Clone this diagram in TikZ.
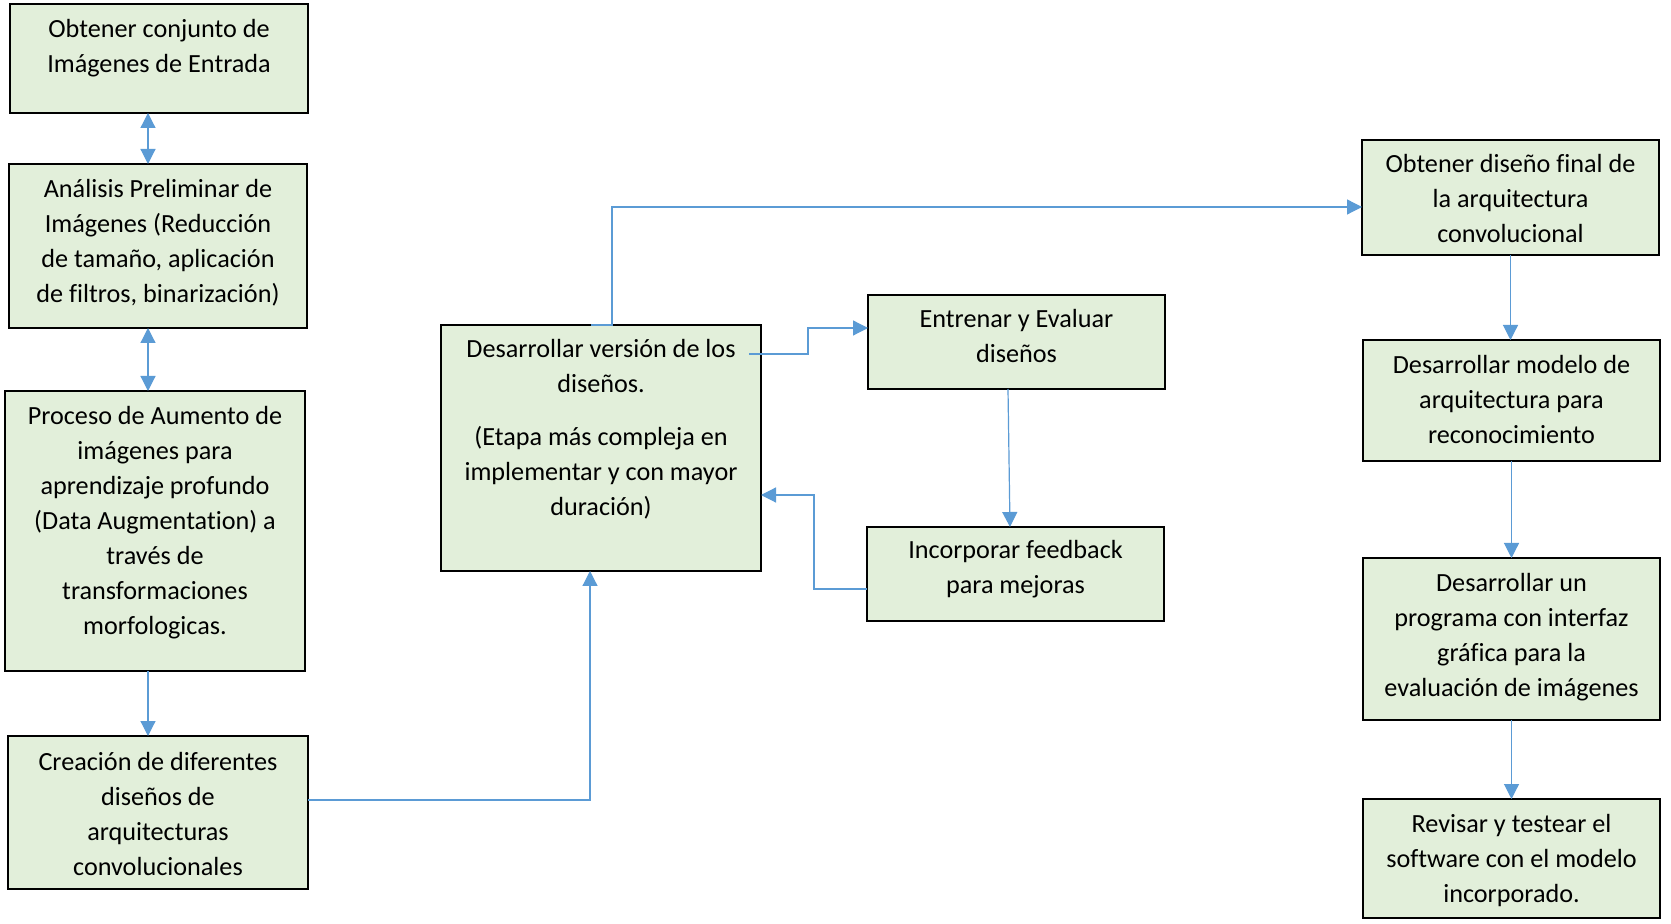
\documentclass[tikz,border=0pt]{standalone}
\usepackage{fontspec}
\setmainfont{Carlito}[Ligatures={NoCommon}]
\usetikzlibrary{arrows.meta,calc}
\definecolor{boxfill}{HTML}{E2EFDA}
\definecolor{connblue}{HTML}{5B9BD5}
\newcommand{\boxtext}[2]{\parbox[t]{#1}{\centering\fontsize{13.1}{17.5}\selectfont #2}}
\begin{document}
\begin{tikzpicture}[x=0.5pt,y=-0.5pt,
  stepbox/.style={draw=black,line width=1.2pt,fill=boxfill,inner sep=0pt,outer sep=0pt},
  boxlabel/.style={anchor=base,inner sep=0pt},
  conn/.style={draw=connblue,line width=0.6pt},
  >={Triangle[length=7.5pt,width=7.5pt]}]
\useasboundingbox[fill=white] (0,0) rectangle (1671,924);
% boxes
\node[stepbox,minimum width=149pt,minimum height=54.5pt] (A) at (159,58.5) {};
\node[stepbox,minimum width=149pt,minimum height=82pt] (B) at (158,246) {};
\node[stepbox,minimum width=150pt,minimum height=140pt] (C) at (155,531) {};
\node[stepbox,minimum width=150pt,minimum height=76.5pt] (D) at (158,812.5) {};
\node[stepbox,minimum width=160pt,minimum height=123pt] (E) at (601,448) {};
\node[stepbox,minimum width=148.5pt,minimum height=47pt] (J) at (1016.5,342) {};
\node[stepbox,minimum width=148.5pt,minimum height=47pt] (K) at (1015.5,574) {};
\node[stepbox,minimum width=148.5pt,minimum height=57.5pt] (F) at (1510.5,197.5) {};
\node[stepbox,minimum width=148.5pt,minimum height=60.5pt] (G) at (1511.5,400.5) {};
\node[stepbox,minimum width=148.5pt,minimum height=81pt] (H) at (1511.5,639) {};
\node[stepbox,minimum width=148.5pt,minimum height=59.5pt] (I) at (1511.5,858.5) {};
% texts
\node[boxlabel] (At) at ($(A.north)+(0,34)$) {\boxtext{149pt}{Obtener conjunto de\\Imágenes de Entrada}};
\node[boxlabel] (Bt) at ($(B.north)+(0,34)$) {\boxtext{149pt}{Análisis Preliminar de\\Imágenes (Reducción\\de tamaño, aplicación\\de filtros, binarización)}};
\node[boxlabel] (Ct) at ($(C.north)+(0,34)$) {\boxtext{150pt}{Proceso de Aumento de\\imágenes para\\aprendizaje profundo\\(Data Augmentation) a\\través de\\transformaciones\\morfologicas.}};
\node[boxlabel] (Dt) at ($(D.north)+(0,34)$) {\boxtext{150pt}{Creación de diferentes\\diseños de\\arquitecturas\\convolucionales}};
\node[boxlabel] (Et) at ($(E.north)+(0,33)$) {\boxtext{160pt}{Desarrollar versión de los\\diseños.\\[9pt](Etapa más compleja en\\implementar y con mayor\\duración)}};
\node[boxlabel] (Jt) at ($(J.north)+(0,33)$) {\boxtext{148pt}{Entrenar y Evaluar\\diseños}};
\node[boxlabel] (Kt) at ($(K.north)+(0,32)$) {\boxtext{148pt}{Incorporar feedback\\para mejoras}};
\node[boxlabel] (Ft) at ($(F.north)+(0,33)$) {\boxtext{148pt}{Obtener diseño final de\\la arquitectura\\convolucional}};
\node[boxlabel] (Gt) at ($(G.north)+(0,34)$) {\boxtext{148pt}{Desarrollar modelo de\\arquitectura para\\reconocimiento}};
\node[boxlabel] (Ht) at ($(H.north)+(0,34)$) {\boxtext{148pt}{Desarrollar un\\programa con interfaz\\gráfica para la\\evaluación de imágenes}};
\node[boxlabel] (It) at ($(I.north)+(0,33)$) {\boxtext{148pt}{Revisar y testear el\\software con el modelo\\incorporado.}};
% connectors
\coordinate (xl) at (148,0);
\draw[conn,<->] (A.south -| xl) -- (B.north -| xl);
\draw[conn,<->] (B.south -| xl) -- (C.north -| xl);
\draw[conn,->] (C.south -| xl) -- (D.north -| xl);
\draw[conn,->] ($(D.east)+(0,-12.5)$) -| ($(E.south)+(-11,0)$);
\draw[conn,->] ($(E.north)+(-10,0)$) -- ($(E.north)+(11,0)$) |- ($(F.west)+(0,9.5)$);
\draw[conn,->] ($(E.east)+(-12,-94)$) -- ++(59,0) |- ($(J.west)+(0,-14)$);
\draw[conn,->] ($(J.south)+(-8.5,0)$) -- ($(K.north)+(-5.5,0)$);
\draw[conn,->] ($(K.west)+(0,15)$) -- ++(-53,0) |- ($(E.east)+(0,47)$);
\draw[conn,->] (F.south) -- (F.south |- G.north);
\draw[conn,->] (G.south) -- (G.south |- H.north);
\draw[conn,->] (H.south) -- (H.south |- I.north);
\end{tikzpicture}
\end{document}
